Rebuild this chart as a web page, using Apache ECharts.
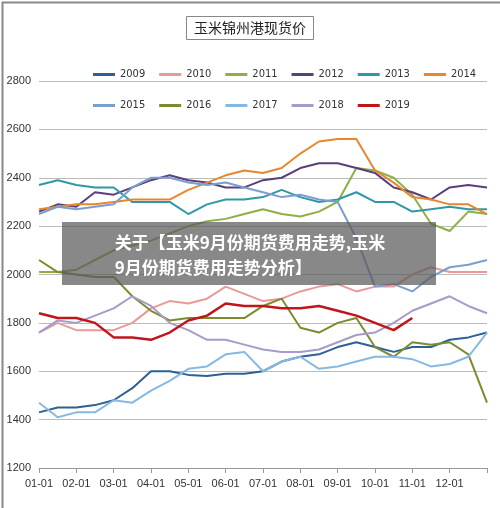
<!DOCTYPE html><html><head><meta charset="utf-8">
<script src="https://cdn.jsdelivr.net/npm/echarts@6/dist/echarts.min.js"></script>
<style>html,body{margin:0;padding:0;background:#fff}#c{width:500px;height:508px}</style></head><body><div id="c"></div>
<script>
const categories=['01-01','01-16','02-01','02-16','03-01','03-16','04-01','04-16','05-01','05-16','06-01','06-16','07-01','07-16','08-01','08-16','09-01','09-16','10-01','10-16','11-01','11-16','12-01','12-16','12-31'];
const yTicks=[1200,1400,1600,1800,2000,2200,2400,2600,2800];
const s2009=[1430,1450,1450,1460,1480,1530,1600,1600,1585,1580,1590,1590,1600,1640,1660,1670,1700,1720,1700,1680,1700,1700,1730,1740,1760];
const s2010=[1760,1800,1770,1770,1770,1800,1860,1890,1880,1900,1950,1920,1890,1900,1930,1950,1960,1930,1950,1950,2000,2030,2010,2010,2010];
const s2011=[2010,2010,2020,2060,2100,2120,2140,2170,2200,2220,2230,2250,2270,2250,2240,2260,2300,2440,2430,2400,2330,2210,2180,2260,2250];
const s2012=[2260,2290,2280,2340,2330,2360,2390,2410,2390,2380,2360,2360,2390,2400,2440,2460,2460,2440,2420,2360,2340,2310,2360,2370,2360];
const s2013=[2370,2390,2370,2360,2360,2300,2300,2300,2250,2290,2310,2310,2320,2350,2320,2300,2310,2340,2300,2300,2260,2270,2280,2270,2270];
const s2014=[2270,2280,2290,2290,2300,2310,2310,2310,2350,2380,2410,2430,2420,2440,2500,2550,2560,2560,2430,2380,2320,2310,2290,2290,2250];
const s2015=[2250,2280,2270,2280,2290,2360,2400,2400,2380,2370,2380,2360,2340,2320,2330,2310,2300,2150,1950,1960,1930,1990,2030,2040,2060];
const s2016=[2060,2010,2000,1990,1990,1910,1850,1810,1820,1820,1820,1820,1870,1900,1780,1760,1800,1820,1700,1660,1720,1710,1720,1670,1470];
const s2017=[1470,1410,1430,1430,1480,1470,1520,1560,1610,1620,1670,1680,1600,1640,1660,1610,1620,1640,1660,1660,1650,1620,1630,1660,1760];
const s2018=[1760,1810,1800,1830,1860,1910,1870,1800,1770,1730,1730,1710,1690,1680,1680,1690,1720,1750,1760,1800,1850,1880,1910,1870,1840];
const s2019=[1840,1820,1820,1800,1740,1740,1730,1760,1810,1830,1880,1870,1870,1860,1860,1870,1850,1830,1800,1770,1820,null,null,null,null];
const names=['2009','2010','2011','2012','2013','2014','2015','2016','2017','2018','2019'];
const datas=[s2009,s2010,s2011,s2012,s2013,s2014,s2015,s2016,s2017,s2018,s2019];
const colors=['#2e5f96','#e99a98','#8cb043','#5b3f7a','#2f98a8','#e8862e','#7c9ecf','#7d8b2f','#85b9e3','#a79bc9','#c0161a'];
const ch=echarts.init(document.getElementById('c'));
const leg={icon:'rect',itemWidth:22,itemHeight:3,itemGap:14,textStyle:{fontSize:11,color:'#333',fontFamily:'Liberation Sans Narrow, DejaVu Sans Condensed, sans-serif'}};
ch.setOption({
 animation:false,
 title:{text:'玉米锦州港现货价',left:'center',top:16,padding:[5,8],borderColor:'#888',borderWidth:1,textStyle:{fontSize:14,fontWeight:'normal',color:'#222',fontFamily:'Noto Sans CJK SC'}},
 legend:[Object.assign({data:names.slice(0,6),left:88,top:64},leg),Object.assign({data:names.slice(6),left:88,top:95},leg)],
 grid:{left:39,right:13,top:81,bottom:40},
 xAxis:{type:'category',data:categories,boundaryGap:false,axisLine:{lineStyle:{color:'#999'}},axisTick:{show:true,interval:1,lineStyle:{color:'#999'}},axisLabel:{interval:1,color:'#333',fontSize:11,margin:10,fontFamily:'Liberation Sans Narrow, sans-serif',formatter:(v,i)=>i===24?'':v},splitLine:{show:false}},
 yAxis:{type:'value',min:1200,max:2800,interval:200,axisLabel:{color:'#333',fontSize:11,fontFamily:'Liberation Sans Narrow, sans-serif',formatter:v=>String(v)},splitLine:{lineStyle:{color:'#bbb'}},axisLine:{show:false}},
 series:names.map((n,i)=>({name:n,type:'line',data:datas[i],symbol:'none',color:colors[i],lineStyle:{width:n==='2019'?2.5:2},connectNulls:false})),
 graphic:[
  {type:'rect',left:62,top:222,shape:{width:374,height:63},style:{fill:'rgba(90,90,90,0.72)'},z:100},
  {type:'text',left:'center',top:230,style:{text:'关于【玉米9月份期货费用走势,玉米\n9月份期货费用走势分析】',fill:'#fff',font:'bold 17px "Noto Sans CJK SC"',align:'center',lineHeight:25},z:101},
  {type:'rect',left:0,top:0,shape:{width:499,height:507},style:{fill:'none',stroke:'#888',lineWidth:2},z:102}
 ]
});
</script></body></html>
